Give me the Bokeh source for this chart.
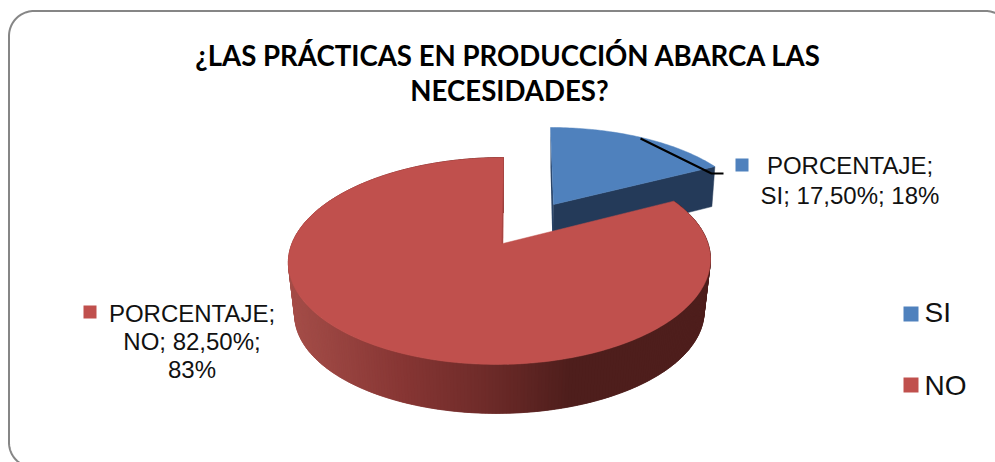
import math

import numpy as np
from bokeh.core.properties import value
from bokeh.embed import file_html
from bokeh.models import Range1d
from bokeh.plotting import figure
from bokeh.resources import INLINE

# Chart content
TITLE_LINES = ["¿LAS PRÁCTICAS EN PRODUCCIÓN ABARCA LAS", "NECESIDADES?"]
CATEGORIES = ["SI", "NO"]
PERCENTAGES = [17.50, 82.50]
ROUNDED = ["18%", "83%"]
SERIES_NAME = "PORCENTAJE"
BLUE = "#4F81BD"
RED = "#C0504D"

W, H = 995, 462
p = figure(width=W, height=H, x_range=Range1d(0, W), y_range=Range1d(H, 0),
           output_backend="svg", toolbar_location=None, min_border=0,
           background_fill_color="white", border_fill_color="white",
           outline_line_color=None)
p.axis.visible = False
p.grid.visible = False


def rim(theta, cx, cy, a, b, k=0.169, skew=0.0):
    """Perspective projection of a point on a tilted disc; theta runs clockwise from the far side."""
    theta = np.asarray(theta, dtype=float)
    u, v = np.sin(theta), np.cos(theta)
    d = 1 + k * v
    return cx + a * u / d + skew * v, cy - b * v / d


# Rounded chart frame, running past the right and bottom of the page
fl, ft, fr, fb, rad = 8.5, 10.5, 1010, 467, 25
t = np.linspace(0, math.pi / 2, 24)
fx = np.concatenate([fl + rad - rad * np.cos(t), fr - rad + rad * np.sin(t),
                     fr - rad + rad * np.cos(t), fl + rad - rad * np.sin(t), [fl]])
fy = np.concatenate([ft + rad - rad * np.sin(t), ft + rad - rad * np.cos(t),
                     fb - rad + rad * np.sin(t), fb - rad + rad * np.cos(t), [ft + rad]])
p.line(fx, fy, line_color="#868686", line_width=2)

total = sum(PERCENTAGES)
split = 2 * math.pi * PERCENTAGES[0] / total

# Blue slice, pulled out from the pie
bcx, bcy, ba, bb, bdrop = 553, 204, 195, 90, 42
bt = np.linspace(0, split, 60)
bx, by = rim(bt, bcx - 3, bcy, ba, bb)
bx = bx + 3 * bt / split
ex, ey = bx[-1], by[-1]
p.patch([bcx, ex, ex - 3, bcx - 1], [bcy, ey, ey + 40, bcy + bdrop],
        fill_color="#243A59", line_color="#243A59", line_width=0.5)
p.patch([bx[0], bcx, bcx, bcx - 1, bx[0]],
        [by[0], bcy, bcy + bdrop, bcy + bdrop, by[0] + 40],
        fill_color="#2A4468", line_color=None)
p.patch(np.r_[bcx, bx], np.r_[bcy, by], fill_color=BLUE, line_color=BLUE, line_width=0.5)

# Red slice: shaded outer wall, then the top face
apex_x, rcx, rcy, ra, rb, rskew = 502.5, 499.5, 243, 208, 100.5, 3.5
drop, shrink = 52.6, 0.97
stops_x = [288, 400, 480, 570, 711]
stops_c = [(165, 78, 73), (135, 54, 52), (112, 44, 42), (78, 30, 28), (78, 30, 28)]
wall = np.linspace(split, 2 * math.pi, 361)
tx, ty = rim(wall, rcx, rcy, ra, rb, skew=rskew)
lx, ly = rim(wall, rcx, rcy + drop, ra * shrink, rb * shrink, skew=rskew)
xs, ys, cols = [], [], []
for i in range(len(wall) - 1):
    j = min(i + 2, len(wall) - 1)
    xs.append([tx[i], tx[j], lx[j], lx[i]])
    ys.append([ty[i], ty[j], ly[j], ly[i]])
    mid = (tx[i] + tx[j]) / 2
    rgb = [int(np.interp(mid, stops_x, [c[n] for c in stops_c])) for n in range(3)]
    cols.append("#%02X%02X%02X" % tuple(rgb))
p.patches(xs, ys, fill_color=cols, line_color=cols, line_width=0.5)

rt = np.linspace(split, 2 * math.pi, 300)
rx, ry = rim(rt, rcx, rcy, ra, rb, skew=rskew)
p.patch(np.r_[apex_x, rx], np.r_[rcy, ry], fill_color=RED, line_color=RED, line_width=0.5)
p.patch([rx[-1], apex_x, apex_x - 1.5], [ry[-1], rcy, rcy], fill_color="#A94542", line_color=None)

# Leader line of the blue slice's label
p.line([640, 711, 723], [138, 173, 173], line_color="black", line_width=2)

# Title
FONT = value("Liberation Sans")
p.text([508, 509], [55, 90], text=TITLE_LINES, text_font=value("Lato"), text_font_style="bold",
       text_font_size="27.6px", text_align="center", text_baseline="middle", text_color="black")

# Data labels with their colour keys
lab_si = [f"{SERIES_NAME};", f"{CATEGORIES[0]}; {PERCENTAGES[0]:.2f}%; {ROUNDED[0]}".replace(".", ",")]
lab_no = [f"{SERIES_NAME};", f"{CATEGORIES[1]}; {PERCENTAGES[1]:.2f}%;".replace(".", ","), ROUNDED[1]]
p.text([849.5, 849.5], [165, 195], text=lab_si, text_font=FONT, text_font_size="24px",
       text_align="center", text_baseline="middle", text_color="#111111")
p.text([191.5, 191.5, 191.5], [313, 341, 369], text=lab_no, text_font=FONT, text_font_size="24px",
       text_align="center", text_baseline="middle", text_color="#111111")
p.rect([741.5], [164.5], width=13, height=13, fill_color=BLUE, line_color=None)
p.rect([89.5], [311.5], width=13, height=13, fill_color=RED, line_color=None)

# Legend
p.rect([910.5, 910.5], [313.5, 384.5], width=15, height=15, fill_color=[BLUE, RED], line_color=None)
p.text([924, 924], [312, 385], text=CATEGORIES, text_font=FONT, text_font_size="28px",
       text_align="left", text_baseline="middle", text_color="#111111")

open("out.html", "w").write(file_html(p, INLINE))
